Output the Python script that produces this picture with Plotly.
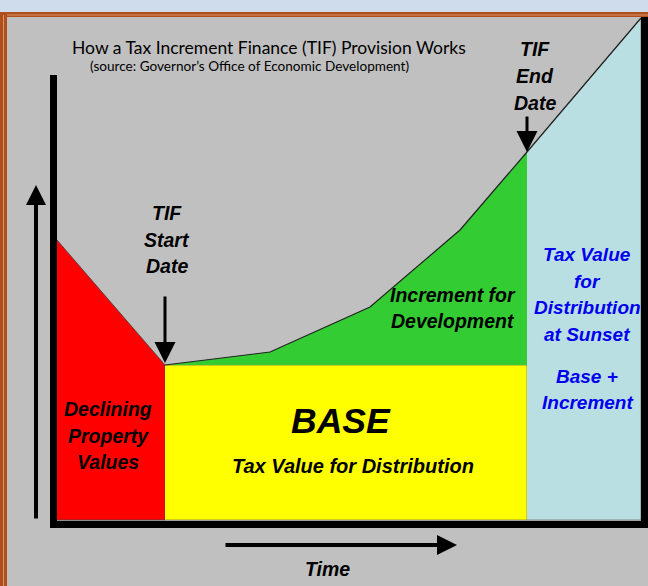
import plotly.graph_objects as go

W, H = 648, 586

# chart values (time units along x, tax value along y)
decline_time = [0, 108]
decline_value = [280, 155]
base_value = 155
tif_start = 108
tif_end = 470
growth_time = [108, 213, 313, 403, 470]
growth_value = [155, 168, 213, 290, 368]
sunset_time = [470, 584]
sunset_value = [368, 502]

RED = "#ff0000"
YELLOW = "#ffff00"
GREEN = "#33cc33"
SUNSET = "#b9dfe2"
GRAY = "#c0c0c0"
BLUE_TXT = "#0000ee"
FONT = "Liberation Sans"


def px(x):
    return x / W


def py(y):
    return 1 - y / H


fig = go.Figure()

# declining property values
fig.add_trace(go.Scatter(
    x=decline_time + decline_time[::-1], y=decline_value + [0, 0],
    fill="toself", fillcolor=RED, mode="lines", line=dict(color="#444", width=0.8),
))
# base
fig.add_trace(go.Scatter(
    x=[tif_start, tif_end, tif_end, tif_start], y=[base_value, base_value, 0, 0],
    fill="toself", fillcolor=YELLOW, mode="lines", line=dict(color="#555", width=0.6),
))
# increment
fig.add_trace(go.Scatter(
    x=growth_time + [tif_end, tif_start], y=growth_value + [base_value, base_value],
    fill="toself", fillcolor=GREEN, mode="lines", line=dict(width=0),
))
# sunset
fig.add_trace(go.Scatter(
    x=sunset_time + sunset_time[::-1], y=sunset_value + [0, 0],
    fill="toself", fillcolor=SUNSET, mode="lines", line=dict(color="#555", width=0.6),
))
# value curve outline
fig.add_trace(go.Scatter(
    x=growth_time + sunset_time[1:], y=growth_value + sunset_value[1:],
    mode="lines", line=dict(color="#222", width=1.2),
))

shapes = [
    dict(type="rect", xref="paper", yref="paper", x0=0, x1=1, y0=py(12), y1=1,
         fillcolor="#cfdcec", line_width=0),
    dict(type="rect", xref="paper", yref="paper", x0=0, x1=1, y0=py(17), y1=py(12),
         fillcolor="#b04e1c", line_width=0),
    dict(type="line", xref="paper", yref="paper", x0=px(6), x1=1, y0=py(15), y1=py(15),
         line=dict(color="#d8946a", width=1)),
    dict(type="rect", xref="paper", yref="paper", x0=0, x1=px(7), y0=0, y1=py(12),
         fillcolor="#b04e1c", line_width=0),
    dict(type="line", xref="paper", yref="paper", x0=px(3.5), x1=px(3.5), y0=0, y1=py(15),
         line=dict(color="#d8946a", width=1)),
    # axes bars
    dict(type="rect", xref="paper", yref="paper", x0=px(50), x1=px(57), y0=py(528), y1=py(75),
         fillcolor="black", line_width=0),
    dict(type="rect", xref="paper", yref="paper", x0=px(50), x1=1, y0=py(528), y1=py(521),
         fillcolor="black", line_width=0),
    dict(type="rect", xref="paper", yref="paper", x0=px(641), x1=1, y0=py(528), y1=py(17),
         fillcolor="black", line_width=0),
]

annotations = []


def label(lines, x, y0, dy, size=19.5, color="black", family=FONT):
    for i, t in enumerate(lines):
        annotations.append(dict(
            x=px(x), y=py(y0 + i * dy), xref="paper", yref="paper", text=t,
            showarrow=False, xanchor="center", yanchor="middle",
            font=dict(family=family, size=size, color=color),
        ))


def bi(t):
    return f"<b><i>{t}</i></b>"


annotations.append(dict(
    x=px(269), y=py(35), xref="paper", yref="paper", showarrow=False,
    text="How a Tax Increment Finance (TIF) Provision Works",
    font=dict(family="Lato", size=17.5, color="black"),
))
annotations.append(dict(
    x=px(249), y=py(56), xref="paper", yref="paper", showarrow=False,
    text="(source: Governor\u2019s Office of Economic Development)",
    font=dict(family="Lato", size=13.6, color="black"),
))

label([bi("TIF"), bi("Start"), bi("Date")], 167, 213, 26.5)
label([bi("TIF"), bi("End"), bi("Date")], 535, 49, 27)
label([bi("Increment for"), bi("Development")], 453, 295, 26)
label([bi("Declining"), bi("Property"), bi("Values")], 108, 409, 26.5)
label([bi("BASE")], 341, 421, 0, size=35.5)
label([bi("Tax Value for Distribution")], 353, 466, 0, size=20)
label([bi("Tax Value"), bi("for"), bi("Distribution"), bi("at Sunset")], 587, 255, 26.4,
      size=19, color=BLUE_TXT)
label([bi("Base +"), bi("Increment")], 587, 376, 26.4, size=19, color=BLUE_TXT)
label([bi("Time")], 327, 569, 0)

# arrows
annotations.append(dict(x=tif_start, y=base_value + 2, xref="x", yref="y", text="",
                        showarrow=True, ax=0, ay=-68, arrowhead=2, arrowsize=1.4,
                        arrowwidth=3, arrowcolor="black"))
annotations.append(dict(x=tif_end, y=sunset_value[0], xref="x", yref="y", text="",
                        showarrow=True, ax=0, ay=-37, arrowhead=2, arrowsize=1.4,
                        arrowwidth=3, arrowcolor="black"))
annotations.append(dict(x=px(36), y=py(185), xref="paper", yref="paper", text="",
                        showarrow=True, ax=0, ay=335, arrowhead=2, arrowsize=1,
                        arrowwidth=4, arrowcolor="black"))
annotations.append(dict(x=px(457), y=py(545), xref="paper", yref="paper", text="",
                        showarrow=True, ax=-233, ay=0, arrowhead=2, arrowsize=1,
                        arrowwidth=4, arrowcolor="black"))

fig.update_layout(
    width=W, height=H, margin=dict(l=0, r=0, t=0, b=0),
    paper_bgcolor=GRAY, plot_bgcolor=GRAY, showlegend=False,
    xaxis=dict(range=[-57, W - 57], visible=False, fixedrange=True),
    yaxis=dict(range=[520 - H, 520], visible=False, fixedrange=True),
    shapes=shapes, annotations=annotations,
)

# the page's default body margin would shift the 648x586 figure out of the window
fig.write_html("out.html", config={"displayModeBar": False},
               post_script="document.body.style.margin='0';document.body.style.overflow='hidden';")
